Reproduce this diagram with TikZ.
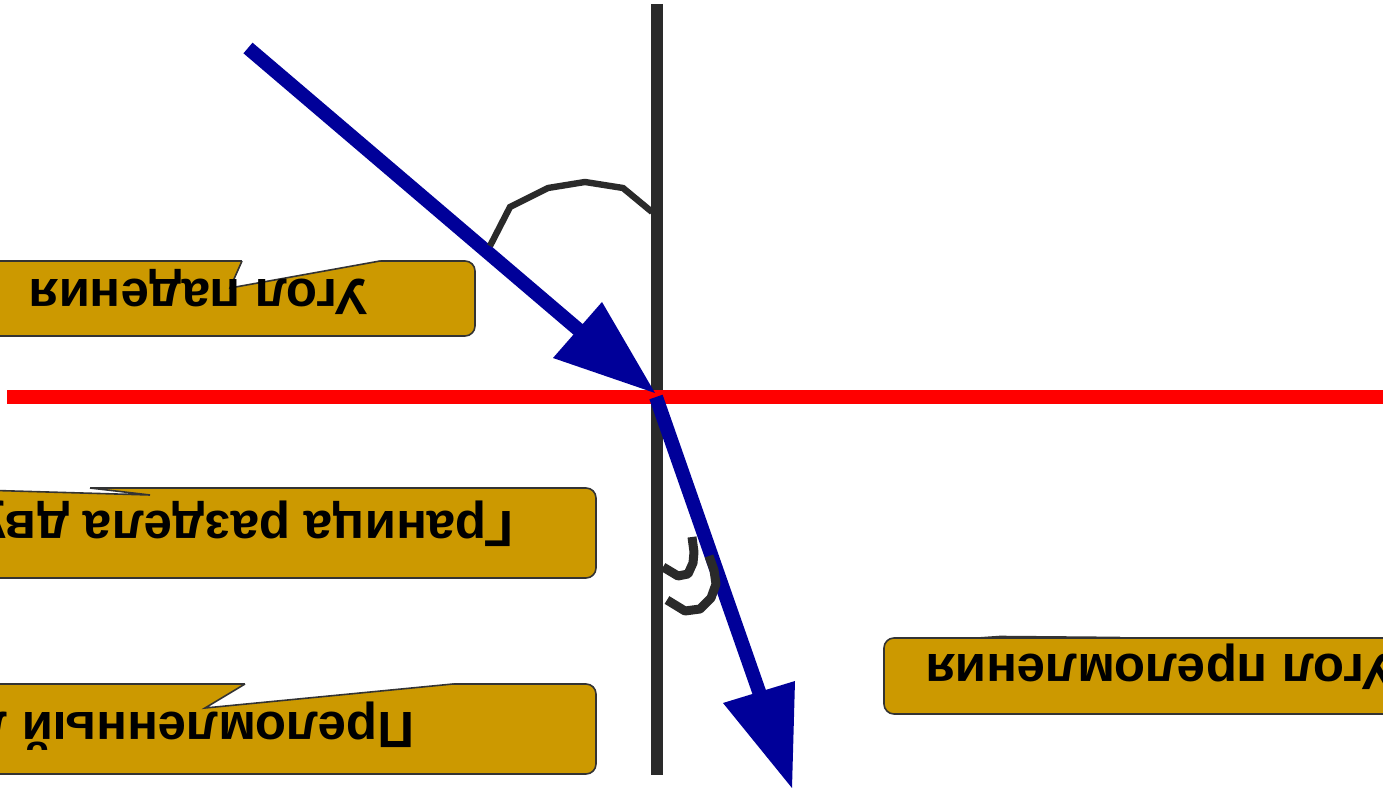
\documentclass[tikz,border=0pt]{standalone}
\usepackage{fontspec}
\setmainfont{Liberation Sans}
\definecolor{gold}{HTML}{CC9900}
\definecolor{boxline}{HTML}{333333}
\definecolor{axis}{HTML}{2A2A2A}
\definecolor{ray}{HTML}{000099}
\definecolor{bound}{HTML}{FF0000}
\tikzset{
  callbox/.style={fill=gold, draw=boxline, line width=0.8pt, rounded corners=5pt},
  notchfill/.style={fill=white},
  notchline/.style={draw=boxline, line width=0.8pt, line join=miter},
  lbl/.style={rotate=180, inner sep=0pt, anchor=base west, font=\fontsize{25.5}{30}\selectfont\bfseries},
  rayline/.style={draw=ray, line width=7pt},
  rayhead/.style={fill=ray},
  anglearc/.style={draw=axis, line width=3.2pt, line join=miter},
  anglearcb/.style={draw=axis, line width=4.5pt, line join=round}
}
\begin{document}
\begin{tikzpicture}[x=0.5pt,y=-0.5pt]
\useasboundingbox (0,0) rectangle (1383,790);
\clip (0,0) rectangle (1383,790);
% coordinates
\coordinate (O) at (657,397);
\coordinate (Vtop) at (657,4);
\coordinate (Vbot) at (657,775);
\coordinate (Hl) at (7,397);
\coordinate (Hr) at (1390,397);
\coordinate (Istart) at (248,48);
\coordinate (Iend) at (580,331);
\coordinate (Itip) at (655,393);
\coordinate (Rstart) at (656,397);
\coordinate (Rend) at (763,703);
\coordinate (Rtip) at (792,788);
% normal and boundary
\draw[draw=axis, line width=6pt] (Vtop) -- (Vbot);
\draw[draw=bound, line width=7pt] (Hl) -- (Hr);
% incident ray
\draw[rayline] (Istart) -- (Iend);
\fill[rayhead] (Itip) -- (602,302) -- (553,358) -- cycle;
% refracted ray
\draw[rayline] (Rstart) -- (Rend);
\fill[rayhead] (Rtip) -- (723,703) -- (795,681) -- cycle;
% angle of incidence
\draw[anglearc] (490,246) -- (510,207) -- (548,188) -- (585,182) -- (623,188) -- (652,212);
% angle of refraction
\draw[anglearcb] (663,567) -- (678,576) -- (688,574) -- (693,563) -- (694,552) -- (692,537);
\draw[anglearcb] (667,600) -- (685,611) -- (700,609) -- (711,598) -- (716,584) -- (714,570) -- (709,556);
% box 1
\path[callbox] (-30,261) rectangle (475,336);
\fill[notchfill] (242,258) -- (242,261) -- (230,288) -- (380,261) -- (380,258) -- cycle;
\draw[notchline] (242,261) -- (230,288) -- (380,261);
\node[lbl] (t1) at (368,280) {Угол падения};
% box 2
\path[callbox] (-30,488) rectangle (596,578);
\fill[notchfill] (-90,485) -- (-90,488) -- (150,495) -- (90,488) -- (90,485) -- cycle;
\draw[notchline] (-90,488) -- (150,495) -- (90,488);
\node[lbl] (t2) at (514,512) {Граница раздела двух сред};
% box 3
\path[callbox] (-30,684) rectangle (596,774);
\fill[notchfill] (245,681) -- (245,684) -- (205,708) -- (453,684) -- (453,681) -- cycle;
\draw[notchline] (245,684) -- (205,708) -- (453,684);
\node[lbl] (t3) at (415,713) {Преломленный луч};
% box 4
\path[callbox] (884,638) rectangle (1420,714);
\draw[notchline] (978,638) -- (1000,636.5) -- (1120,637.5);
\node[lbl] (t4) at (1395,655) {Угол преломления};
\end{tikzpicture}
\end{document}
